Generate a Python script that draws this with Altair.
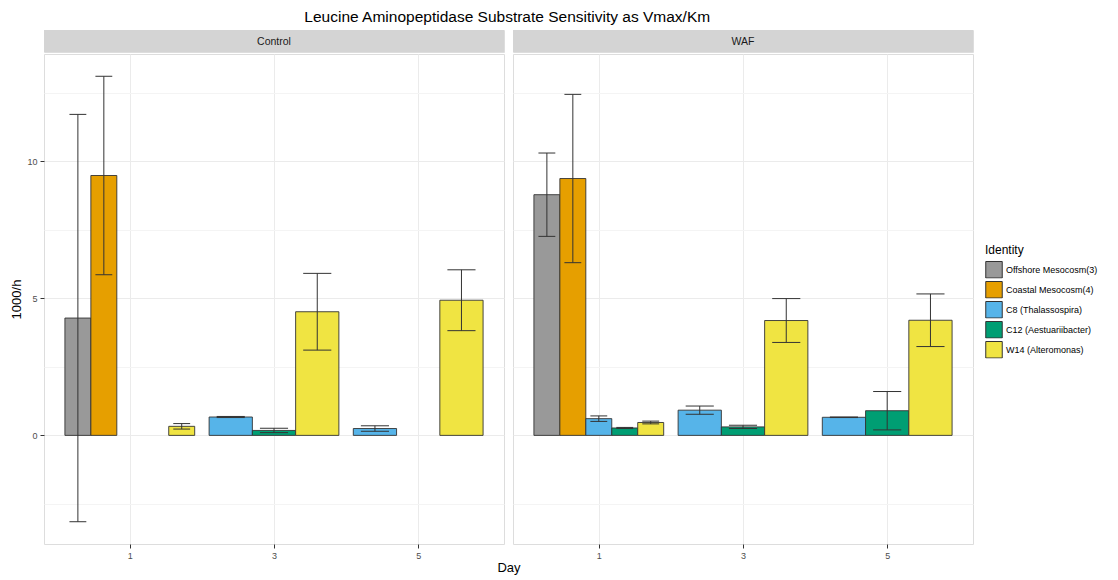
import altair as alt
import pandas as pd

FONT = "Liberation Sans"

identities = [
    "Offshore Mesocosm(3)",
    "Coastal Mesocosm(4)",
    "C8 (Thalassospira)",
    "C12 (Aestuariibacter)",
    "W14 (Alteromonas)",
]
palette = ["#999999", "#E69F00", "#56B4E9", "#009E73", "#F0E442"]

treatment = ["Control"] * 11 + ["WAF"] * 11
day = [1, 1, 1, 1, 1, 3, 3, 3, 5, 5, 5] * 2
identity = (identities + identities[2:] + identities[2:]) * 2

# Vmax/Km (1000/h) and its error, None where no measurement exists
rate = [4.28, 9.48, None, None, 0.33, 0.67, 0.18, 4.51, 0.25, None, 4.93,
        8.78, 9.37, 0.61, 0.27, 0.47, 0.92, 0.31, 4.19, 0.66, 0.90, 4.20]
err = [7.43, 3.62, None, None, 0.10, 0.02, 0.08, 1.40, 0.10, None, 1.11,
       1.52, 3.07, 0.10, 0.02, 0.05, 0.15, 0.06, 0.80, 0.01, 0.70, 0.96]

df = pd.DataFrame({"Treatment": treatment, "Day": day, "Identity": identity,
                   "Rate": rate, "Err": err})

# dodge bars within each Treatment/Day group (like position_dodge)
DODGE = 1.8
CAP = 0.65
grp = df.groupby(["Treatment", "Day"])
df["bw"] = DODGE / grp["Identity"].transform("size")
df["x0"] = df["Day"] - DODGE / 2 + grp.cumcount() * df["bw"]
df["x1"] = df["x0"] + df["bw"]
df["xc"] = (df["x0"] + df["x1"]) / 2
df["c0"] = df["xc"] - CAP * df["bw"] / 2
df["c1"] = df["xc"] + CAP * df["bw"] / 2
df["lo"] = df["Rate"] - df["Err"]
df["hi"] = df["Rate"] + df["Err"]

# continuous scale limits with a 5% expansion on each side
xmin, xmax = df["x0"].min(), df["x1"].max()
ymin, ymax = min(0, df["lo"].min()), df["hi"].max()
xpad, ypad = 0.05 * (xmax - xmin), 0.05 * (ymax - ymin)
xscale = alt.Scale(domain=[xmin - xpad, xmax + xpad], nice=False, zero=False)
yscale = alt.Scale(domain=[ymin - ypad, ymax + ypad], nice=False, zero=False)

W, H, STRIP, GAP = 460, 490, 22, 7
MAJOR = "datum.value % 5 === 0"
GRID = {"condition": {"test": MAJOR, "value": "#EBEBEB"}, "value": "#F4F4F4"}


def panel(name, first):
    d = df[df["Treatment"] == name].dropna(subset=["Rate"])
    base = alt.Chart(d)
    x_axis = alt.Axis(
        values=[1, 3, 5], title="", titlePadding=0, grid=True,
        gridColor="#EBEBEB", domain=False, tickColor="#333333", tickSize=4,
        labelColor="#4D4D4D", labelFontSize=9, labelPadding=3, labelFont=FONT,
    )
    if first:
        y_axis = alt.Axis(
            values=[-2.5, 0, 2.5, 5, 7.5, 10, 12.5], title="1000/h", grid=True,
            labelExpr=f"{MAJOR} ? datum.label : ''",
            tickOpacity={"condition": {"test": MAJOR, "value": 1}, "value": 0},
            gridColor=GRID, domain=False, tickColor="#333333", tickSize=4,
            labelColor="#4D4D4D", labelFontSize=9, labelPadding=3,
            labelFont=FONT, titleFont=FONT, titleFontSize=13,
            titleFontWeight="normal", titleColor="#000000", titlePadding=3,
        )
    else:
        y_axis = alt.Axis(
            values=[-2.5, 0, 2.5, 5, 7.5, 10, 12.5], title="", labels=False,
            ticks=False, domain=False, grid=True, gridColor=GRID,
            titlePadding=0, labelPadding=0,
        )
    bars = base.mark_rect(stroke="#333333", strokeWidth=0.9).encode(
        x=alt.X("x0:Q", scale=xscale, axis=x_axis),
        x2="x1",
        y=alt.Y("Rate:Q", scale=yscale, axis=y_axis),
        y2=alt.datum(0),
        fill=alt.Fill(
            "Identity:N",
            scale=alt.Scale(domain=identities, range=palette),
            legend=alt.Legend(
                title="Identity", orient="none", legendX=941, legendY=215,
                symbolType="square", symbolSize=272, symbolStrokeColor="#333333",
                symbolStrokeWidth=1, rowPadding=2, clipHeight=17.5,
                labelOffset=3, labelFont=FONT, labelFontSize=9,
                labelColor="#000000", titleFont=FONT, titleFontSize=12,
                titleFontWeight="normal", titleColor="#000000", titlePadding=4,
            ),
        ),
    )
    stem = base.mark_rule(color="#333333", strokeWidth=1).encode(
        x=alt.X("xc:Q", scale=xscale, axis=x_axis),
        y=alt.Y("lo:Q", scale=yscale, axis=y_axis),
        y2="hi",
    )
    cap_hi = base.mark_rule(color="#333333", strokeWidth=1).encode(
        x=alt.X("c0:Q", scale=xscale, axis=x_axis), x2="c1",
        y=alt.Y("hi:Q", scale=yscale, axis=y_axis),
    )
    cap_lo = base.mark_rule(color="#333333", strokeWidth=1).encode(
        x=alt.X("c0:Q", scale=xscale, axis=x_axis), x2="c1",
        y=alt.Y("lo:Q", scale=yscale, axis=y_axis),
    )
    plot = alt.layer(bars, stem, cap_hi, cap_lo).properties(width=W, height=H)

    strip_base = alt.Chart(pd.DataFrame({"label": [name]}))
    strip = alt.layer(
        strip_base.mark_rect(fill="#D4D4D4").encode(
            x=alt.value(0), x2=alt.value("width"),
            y=alt.value(0), y2=alt.value("height"),
        ),
        strip_base.mark_text(font=FONT, fontSize=10.5, color="#1A1A1A").encode(
            x=alt.value(W / 2), y=alt.value(STRIP / 2 + 1), text="label:N",
        ),
    ).properties(width=W, height=STRIP)
    return alt.vconcat(strip, plot, spacing=0)


# both panels share one x-axis title, drawn under the pair
panels = alt.hconcat(
    panel("Control", True), panel("WAF", False), spacing=GAP,
).properties(
    title=alt.TitleParams(
        "Day", orient="bottom", anchor="middle", dx=17, offset=1,
        font=FONT, fontSize=13, fontWeight="normal", color="#000000",
    ),
)

chart = alt.vconcat(panels).properties(
    title=alt.TitleParams(
        "Leucine Aminopeptidase Substrate Sensitivity as Vmax/Km",
        font=FONT, fontSize=15.5, fontWeight="normal", color="#000000",
        anchor="middle", dx=-47, offset=4,
    ),
    padding={"left": 10, "top": 10, "right": 5, "bottom": 0},
).configure_view(
    stroke="#A6A6A6", strokeWidth=1.2,
).configure(
    background="white",
)

chart.save("out.html", embed_options={"renderer": "svg", "actions": False})
